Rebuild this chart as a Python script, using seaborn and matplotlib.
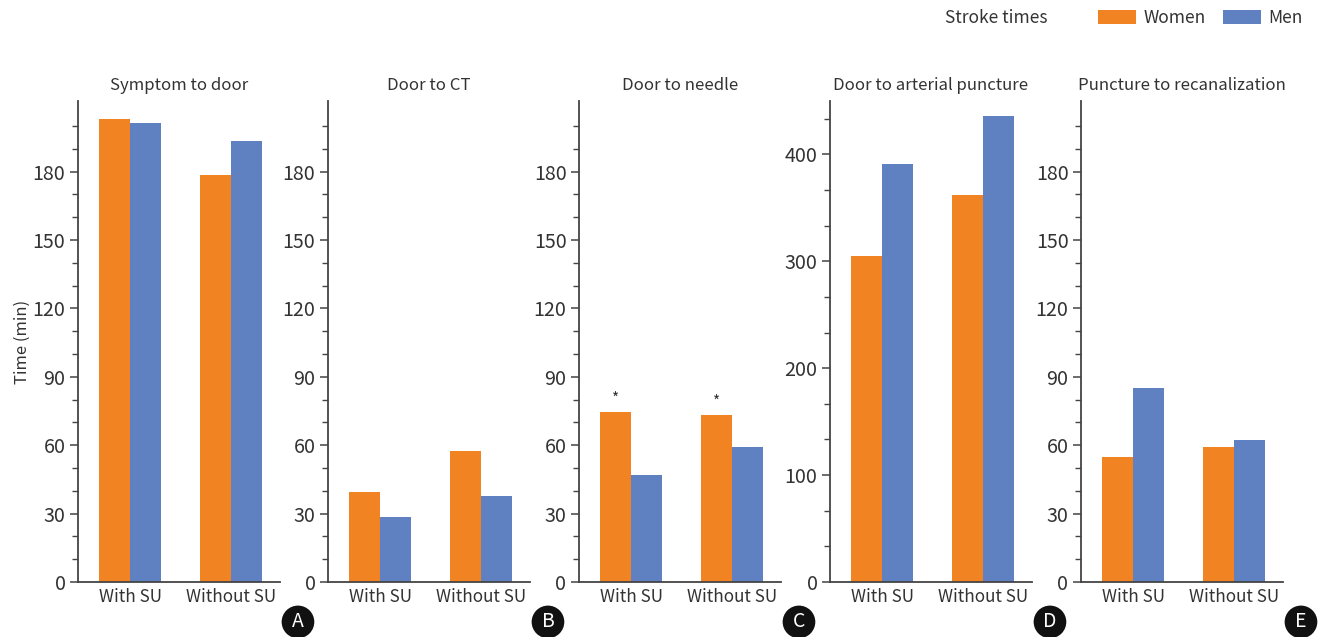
import matplotlib
matplotlib.use("Agg")
import matplotlib.pyplot as plt
from matplotlib.patches import Patch
from matplotlib.ticker import FixedLocator
import numpy as np
import pandas as pd
import seaborn as sns

# ---- data ----
categories = ["With SU", "Without SU"]
groups = ["Women", "Men"]
panel_titles = ["Symptom to door", "Door to CT", "Door to needle",
                "Door to arterial puncture", "Puncture to recanalization"]
panel_letters = ["A", "B", "C", "D", "E"]
women_vals = [[203.2, 178.7], [39.5, 57.5], [74.5, 73.2], [305.0, 361.8], [54.9, 59.3]]
men_vals = [[201.5, 193.6], [28.5, 37.8], [46.8, 59.1], [390.6, 435.7], [85.2, 62.3]]
women_marks = [["", ""], ["", ""], ["*", "*"], ["", ""], ["", ""]]
legend_title = "Stroke times"
y_label = "Time (min)"

# ---- style ----
sns.set_theme(style="white")
plt.rcParams['font.family'] = ['Noto Sans CJK KR', 'DejaVu Sans']
text_col = "#333333"
spine_col = "#444444"
palette = {"Women": "#F28322", "Men": "#6081C1"}

W, H = 1321, 637
fig = plt.figure(figsize=(W / 100, H / 100), dpi=100)

lefts = [78, 328, 579, 830, 1081]
ax_w, ax_bottom, ax_top = 202, 582, 101

for i in range(5):
    l = lefts[i]
    ax = fig.add_axes([l / W, (H - ax_bottom) / H, ax_w / W, (ax_bottom - ax_top) / H])
    df = pd.DataFrame({
        "cat": categories * 2,
        "grp": ["Women"] * 2 + ["Men"] * 2,
        "val": women_vals[i] + men_vals[i],
    })
    sns.barplot(data=df, x="cat", y="val", hue="grp", hue_order=groups,
                order=categories, palette=palette, width=0.614, gap=0,
                saturation=1, legend=False, ax=ax, errorbar=None, linewidth=0)
    ax.set_xlim(-0.515, 1.485)
    if i == 3:
        ax.set_ylim(0, 450)
        ax.yaxis.set_major_locator(FixedLocator([0, 100, 200, 300, 400]))
        ax.yaxis.set_minor_locator(FixedLocator([v for v in np.arange(0, 450, 100 / 3)
                                                 if round(v) % 100 != 0]))
    else:
        ax.set_ylim(0, 211)
        ax.yaxis.set_major_locator(FixedLocator([0, 30, 60, 90, 120, 150, 180]))
        ax.yaxis.set_minor_locator(FixedLocator([v for v in range(10, 210, 10) if v % 30 != 0]))
    for s in ["top", "right"]:
        ax.spines[s].set_visible(False)
    for s in ["left", "bottom"]:
        ax.spines[s].set_color(spine_col)
        ax.spines[s].set_linewidth(1.3)
    ax.tick_params(axis="y", which="major", left=True, length=6, width=1.1,
                   color=spine_col, labelsize=14.2, labelcolor=text_col, pad=3)
    ax.tick_params(axis="y", which="minor", left=True, length=4, width=1.0, color=spine_col)
    ax.tick_params(axis="x", length=0, labelsize=12.3, labelcolor=text_col, pad=4)
    ax.set_xlabel("")
    ax.set_ylabel(y_label if i == 0 else "", fontsize=12, color=text_col, labelpad=1)
    ax.set_title(panel_titles[i], fontsize=12.1, color=text_col, pad=8)
    # significance marks above women bars
    women_patches = ax.containers[0].patches
    for p, m in zip(women_patches, women_marks[i]):
        if m:
            ax.annotate(m, (p.get_x() + p.get_width() / 2, p.get_height()),
                        xytext=(0, 3), textcoords="offset points",
                        ha="center", va="bottom", fontsize=11, color=text_col)
    ax.text(1.089, -0.083, panel_letters[i], transform=ax.transAxes,
            ha="center", va="center", fontsize=14, color="white",
            bbox=dict(boxstyle="circle,pad=0.3", fc="#111111", ec="none"))

fig.text(996 / W, 1 - 18 / H, legend_title, ha="center", va="center",
         fontsize=12.5, color=text_col)
handles = [Patch(facecolor=palette[g], edgecolor="none", label=g) for g in groups]
fig.legend(handles=handles, loc="center right", bbox_to_anchor=(1318 / W, 1 - 18 / H),
           ncol=2, frameon=False, fontsize=12.5, handlelength=2.2, handleheight=0.85,
           handletextpad=0.4, columnspacing=1.0, labelcolor=text_col)

fig.savefig("out.png", dpi=100)
